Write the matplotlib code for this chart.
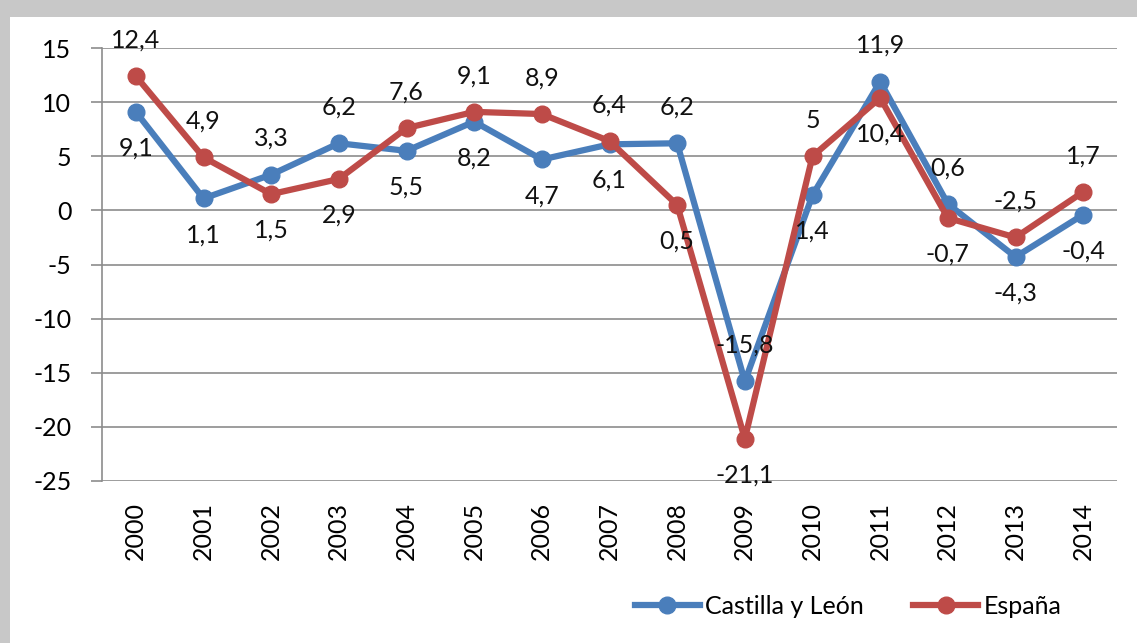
import matplotlib.pyplot as plt
from matplotlib.patches import Rectangle

years = [str(y) for y in range(2000, 2015)]
castilla = [9.1, 1.1, 3.3, 6.2, 5.5, 8.2, 4.7, 6.1, 6.2, -15.8, 1.4, 11.9, 0.6, -4.3, -0.4]
espana = [12.4, 4.9, 1.5, 2.9, 7.6, 9.1, 8.9, 6.4, 0.5, -21.1, 5, 10.4, -0.7, -2.5, 1.7]
# label side for each point: 1 above, -1 below
castilla_side = [-1, -1, 1, 1, -1, -1, -1, -1, 1, 1, -1, 1, 1, -1, -1]
espana_side = [1, 1, -1, -1, 1, 1, 1, 1, -1, -1, 1, -1, -1, 1, 1]

blue = '#4A7EBB'
red = '#BE4B48'

plt.rcParams['font.family'] = ['Lato', 'DejaVu Sans']
plt.rcParams['axes.unicode_minus'] = False

fig = plt.figure(figsize=(11.37, 6.43), dpi=100)
# gray frame on top/left like the original screenshot
fig.patches.append(Rectangle((0, 0), 1, 1, transform=fig.transFigure,
                             facecolor='#c8c8c8', edgecolor='none', zorder=-10))
fig.patches.append(Rectangle((10 / 1137, 0), 1, 1 - 17 / 643, transform=fig.transFigure,
                             facecolor='white', edgecolor='none', zorder=-9))

ax = fig.add_axes([102 / 1137, 1 - 481 / 643, 1015 / 1137, 433 / 643])
ax.set_facecolor('none')
x = list(range(len(years)))

ax.plot(x, castilla, color=blue, lw=4.5, marker='o', ms=12, label='Castilla y León', zorder=3)
ax.plot(x, espana, color=red, lw=4.5, marker='o', ms=12, label='España', zorder=4)

def fmt(v):
    s = ('%.1f' % v).rstrip('0').rstrip('.')
    return s.replace('.', ',')

for vals, sides in ((castilla, castilla_side), (espana, espana_side)):
    for i, (v, s) in enumerate(zip(vals, sides)):
        ax.annotate(fmt(v), (i, v), xytext=(0, 26 * s), textcoords='offset points',
                    ha='center', va='center', fontsize=18, color='#111111', zorder=5)

ax.set_xlim(-0.5, len(years) - 0.5)
ax.set_ylim(-25, 15)
ax.set_yticks(range(-25, 16, 5))
ax.set_xticks(x)
ax.set_xticklabels(years, rotation=90)
ax.yaxis.grid(True, color='#8c8c8c', lw=1.2)
ax.set_axisbelow(True)
for side in ('top', 'right', 'bottom'):
    ax.spines[side].set_visible(False)
ax.spines['left'].set_color('#8c8c8c')
ax.spines['left'].set_linewidth(1.2)
ax.tick_params(axis='y', length=8, width=1.2, color='#8c8c8c', labelsize=18, pad=14)
ax.tick_params(axis='x', length=0, labelsize=18, pad=15)

leg = fig.legend(loc='center', bbox_to_anchor=(848 / 1137, 1 - 606 / 643), ncol=2,
                 frameon=False, fontsize=18, handlelength=2.6, columnspacing=2.0,
                 handletextpad=0.2)

fig.savefig('out.png', dpi=100)
